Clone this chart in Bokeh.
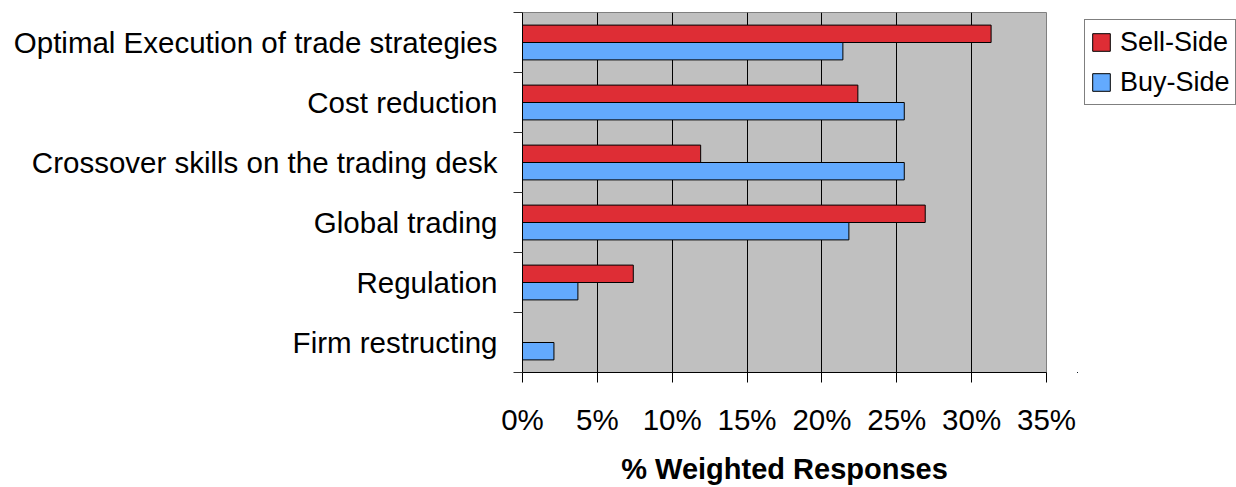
from bokeh.plotting import figure
from bokeh.layouts import row
from bokeh.models import (Range1d, FixedTicker, PrintfTickFormatter, Legend,
                          LegendItem, Grid, ColumnDataSource)
from bokeh.transform import dodge
from bokeh.embed import file_html
from bokeh.resources import INLINE

# Survey topics, top to bottom, and weighted response shares (%)
categories = [
    "Optimal Execution of trade strategies",
    "Cost reduction",
    "Crossover skills on the trading desk",
    "Global trading",
    "Regulation",
    "Firm restructing",
]
sell_side = [31.3, 22.4, 11.9, 26.9, 7.4, 0.0]
buy_side = [21.4, 25.5, 25.5, 21.8, 3.7, 2.1]
series_names = ["Sell-Side", "Buy-Side"]
x_ticks = [0, 5, 10, 15, 20, 25, 30, 35]

FONT = "Liberation Sans"
RED = "#DE2D35"
BLUE = "#63AAFE"

n = len(categories)
centers = [n - i - 0.5 for i in range(n)]
bounds = [float(b) for b in range(n + 1)]

src = ColumnDataSource(dict(y=centers, sell=sell_side, buy=buy_side))

# ---- main chart ----
p = figure(width=1077, height=487, output_backend="svg", toolbar_location=None,
           x_range=Range1d(0, 35), y_range=Range1d(0, n),
           min_border_left=522, min_border_right=31,
           min_border_top=12, min_border_bottom=115)

p.background_fill_color = "#C0C0C0"
p.border_fill_color = "white"
p.outline_line_color = "#808080"
p.outline_line_width = 1

bar_h = 0.29
off = 0.145
p.hbar(y=dodge("y", off), left=0, right="sell", height=bar_h, source=src,
       fill_color=RED, line_color="black", line_width=1)
p.hbar(y=dodge("y", -off), left=0, right="buy", height=bar_h, source=src,
       fill_color=BLUE, line_color="black", line_width=1)

# grids: only vertical lines at interior percent ticks
p.xgrid.visible = False
p.ygrid.visible = False
p.add_layout(Grid(dimension=0, ticker=FixedTicker(ticks=x_ticks[1:-1]),
                  grid_line_color="black", grid_line_width=1))

# x axis
xa = p.xaxis[0]
xa.ticker = FixedTicker(ticks=x_ticks)
xa.formatter = PrintfTickFormatter(format="%d%%")
xa.major_tick_out = 10
xa.major_tick_in = 0
xa.minor_tick_out = 0
xa.minor_tick_in = 0
xa.axis_line_color = "black"
xa.major_tick_line_color = "black"
xa.major_label_text_font = FONT
xa.major_label_text_font_size = "29.5px"
xa.major_label_text_color = "black"
xa.major_label_standoff = 20
xa.axis_label = "% Weighted Responses"
xa.axis_label_text_font = FONT
xa.axis_label_text_font_size = "29px"
xa.axis_label_text_font_style = "bold"
xa.axis_label_text_color = "black"
xa.axis_label_standoff = 14

# y axis: labels at band centres, tick marks at band boundaries
ya = p.yaxis[0]
ya.ticker = FixedTicker(ticks=centers, minor_ticks=bounds)
ya.major_label_overrides = {c: name for c, name in zip(centers, categories)}
ya.major_tick_out = 0
ya.major_tick_in = 0
ya.minor_tick_out = 9
ya.minor_tick_in = 0
ya.minor_tick_line_color = "#333333"
ya.axis_line_color = "black"
ya.major_label_text_font = FONT
ya.major_label_text_font_size = "29.5px"
ya.major_label_text_color = "black"
ya.major_label_standoff = 16

# ---- legend panel beside the chart ----
q = figure(width=159, height=487, output_backend="svg", toolbar_location=None,
           x_range=Range1d(100, 101), y_range=Range1d(100, 101),
           min_border_left=0, min_border_right=0, min_border_top=12,
           min_border_bottom=115)
q.axis.visible = False
q.grid.visible = False
q.outline_line_color = None
q.background_fill_color = "white"
q.border_fill_color = "white"

# key swatches share the series data; the panel's ranges keep the bars out of view
key_sell = q.hbar(y="y", left=0, right="sell", height=bar_h, source=src,
                  fill_color=RED, line_color="black")
key_buy = q.hbar(y="y", left=0, right="buy", height=bar_h, source=src,
                 fill_color=BLUE, line_color="black")

legend = Legend(items=[LegendItem(label=series_names[0], renderers=[key_sell]),
                       LegendItem(label=series_names[1], renderers=[key_buy])],
                location="top_left", orientation="vertical",
                label_text_font=FONT, label_text_font_size="27px",
                label_text_color="black", label_height=34, label_standoff=8,
                glyph_width=22, glyph_height=22, spacing=6, padding=5,
                margin=7, border_line_color="black", border_line_width=1,
                background_fill_color="white", background_fill_alpha=1.0)
q.add_layout(legend, "center")

open("out.html", "w").write(file_html(row(p, q), INLINE))
